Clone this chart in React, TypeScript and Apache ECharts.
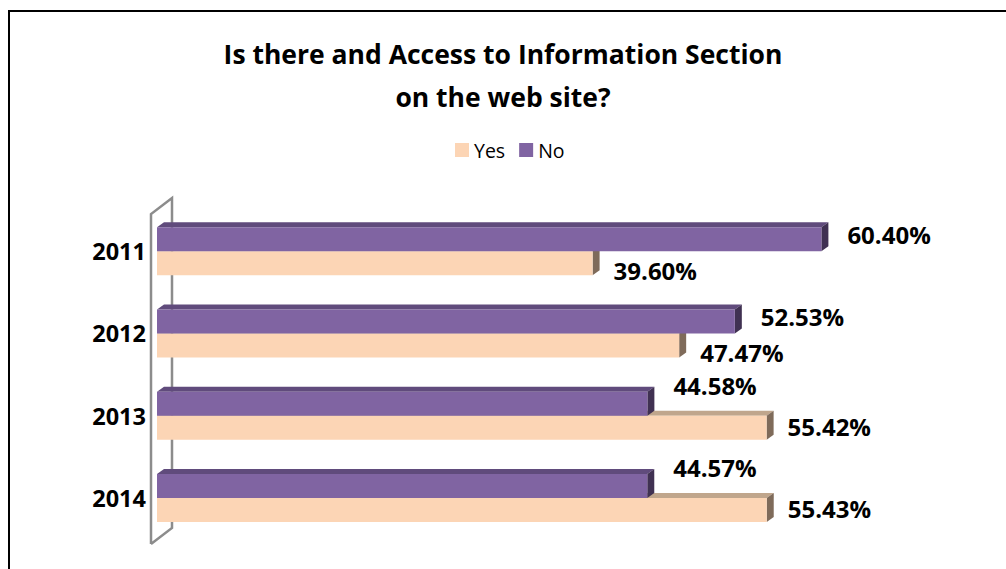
import React, { useEffect, useRef } from "react";
import * as echarts from "echarts";

const categories = ["2011", "2012", "2013", "2014"];
const yesValues = [39.6, 47.47, 55.42, 55.43];
const noValues = [60.4, 52.53, 44.58, 44.57];
const seriesNames = ["Yes", "No"];
const titleText = "Is there and Access to Information Section\non the web site?";

const COLORS = {
  Yes: { front: "#FCD5B5", top: "#C0A68C", side: "#7F6B5A" },
  No: { front: "#8064A2", top: "#604B7C", side: "#403152" },
};

export default function App() {
  const ref = useRef<HTMLDivElement>(null);
  useEffect(() => {
    if (!ref.current) return;
    const chart = echarts.init(ref.current, undefined, { renderer: "svg" });
    const BAR_H = 24;
    const DX = 7;
    const DY = 5;

    const makeRender = (name: "Yes" | "No") => (params: any, api: any) => {
      const cat = api.value(0);
      const val = api.value(1);
      const p0 = api.coord([0, cat]);
      const p1 = api.coord([val, cat]);
      const x0 = p0[0];
      const x1 = p1[0];
      const y0 = name === "No" ? p0[1] - BAR_H : p0[1];
      const c = COLORS[name];
      const yes = yesValues[cat];
      const no = noValues[cat];
      let labelDy = 0;
      let labelDx = 0;
      if (name === "No") {
        labelDx = 26;
        labelDy = yes > no ? -18 : -5;
      } else {
        labelDx = 21;
        labelDy = yes > no ? -1 : 7;
      }
      const label = val.toFixed(2) + "%";
      return {
        type: "group",
        children: [
          {
            type: "polygon",
            shape: { points: [[x0, y0], [x0 + DX, y0 - DY], [x1 + DX, y0 - DY], [x1, y0]] },
            style: { fill: c.top },
          },
          {
            type: "polygon",
            shape: { points: [[x1, y0], [x1 + DX, y0 - DY], [x1 + DX, y0 + BAR_H - DY], [x1, y0 + BAR_H]] },
            style: { fill: c.side },
          },
          {
            type: "rect",
            shape: { x: x0, y: y0, width: x1 - x0, height: BAR_H },
            style: { fill: c.front },
          },
          {
            type: "text",
            x: x1 + labelDx,
            y: y0 + BAR_H / 2 + labelDy,
            style: {
              text: label,
              fill: "#000",
              font: "bold 24px 'Open Sans'",
              verticalAlign: "middle",
              align: "left",
            },
          },
        ],
      };
    };

    chart.setOption({
      animation: false,
      title: {
        text: titleText,
        left: "center",
        top: 27,
        textStyle: {
          fontFamily: "Open Sans",
          fontWeight: "bold",
          fontSize: 26.5,
          lineHeight: 43,
          color: "#000",
        },
      },
      legend: {
        data: seriesNames,
        top: 135,
        left: 450,
        itemWidth: 14,
        itemHeight: 14,
        itemGap: 14,
        icon: "rect",
        textStyle: { fontFamily: "Open Sans", fontSize: 19.5, color: "#000" },
      },
      grid: { left: 157, top: 210, height: 329, width: 770 },
      xAxis: {
        type: "value",
        min: 0,
        max: 70,
        show: false,
      },
      yAxis: {
        type: "category",
        data: categories,
        inverse: true,
        axisLine: { show: false },
        axisTick: { show: false },
        axisLabel: {
          margin: 11,
          fontFamily: "Open Sans",
          fontWeight: "bold",
          fontSize: 23.5,
          color: "#000",
          padding: [10, 0, 0, 0],
        },
      },
      graphic: [
        {
          type: "polyline",
          z: 0,
          shape: {
            points: [[151, 544], [151, 214], [172, 198], [172, 528], [151, 544]],
          },
          style: { stroke: "#8C8C8C", lineWidth: 2.5, fill: null },
        },
      ],
      series: [
        {
          name: "Yes",
          type: "custom",
          z: 2,
          itemStyle: { color: COLORS.Yes.front },
          encode: { x: 1, y: 0 },
          data: yesValues.map((v, i) => [i, v]),
          renderItem: makeRender("Yes"),
        },
        {
          name: "No",
          type: "custom",
          z: 3,
          itemStyle: { color: COLORS.No.front },
          encode: { x: 1, y: 0 },
          data: noValues.map((v, i) => [i, v]),
          renderItem: makeRender("No"),
        },
      ],
    });
    return () => chart.dispose();
  }, []);

  return (
    <div style={{ position: "fixed", left: 0, top: 0, width: 1006, height: 569, overflow: "hidden", background: "#fff" }}>
      <div
        style={{
          position: "absolute",
          left: 8,
          top: 10,
          width: 1100,
          height: 700,
          border: "2px solid #000",
          boxSizing: "border-box",
        }}
      />
      <div ref={ref} style={{ position: "absolute", left: 0, top: 0, width: 1006, height: 569 }} />
    </div>
  );
}
